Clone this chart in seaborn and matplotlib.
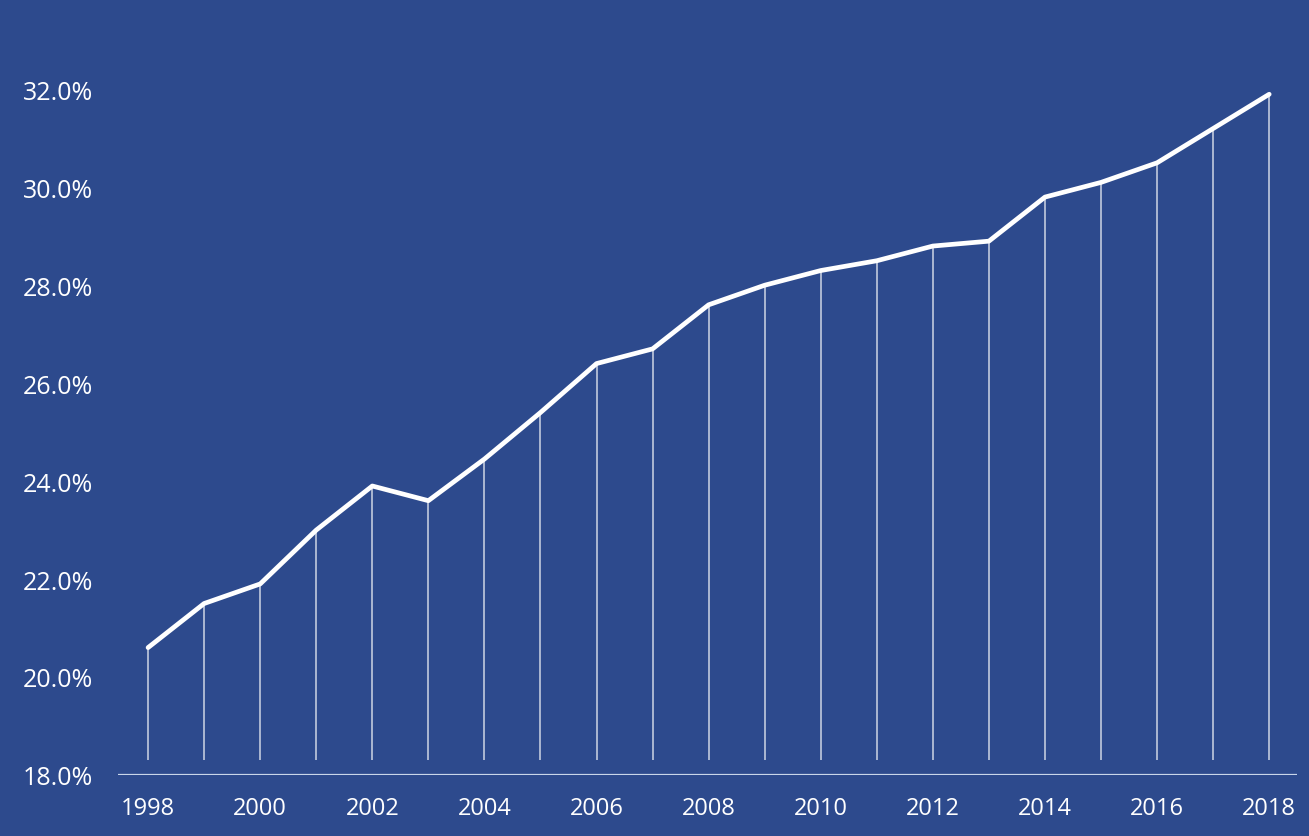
import pandas as pd
import matplotlib.pyplot as plt
import seaborn as sns
from matplotlib.ticker import FuncFormatter

# Values (share, in %)
years = list(range(1998, 2019))
share = [20.6, 21.5, 21.9, 23.0, 23.9, 23.6, 24.45, 25.4, 26.4, 26.7, 27.6,
         28.0, 28.3, 28.5, 28.8, 28.9, 29.8, 30.1, 30.5, 31.2, 31.9]
y_ticks = [18, 20, 22, 24, 26, 28, 30, 32]
x_ticks = list(range(1998, 2019, 2))

data = pd.DataFrame({'Year': years, 'Share': share})

bg = '#2d4a8d'
sns.set_style('white')
plt.rcParams['font.family'] = ['Open Sans', 'DejaVu Sans']

fig = plt.figure(figsize=(13.09, 8.37), dpi=100, facecolor=bg)
ax = fig.add_axes([0.090, 0.073, 0.901, 0.860])
ax.set_facecolor(bg)

# Drop lines from each point down toward the baseline
ax.vlines(data['Year'], 18.3, data['Share'], color='white', linewidth=1.2, alpha=0.7, zorder=2)

# Main line
sns.lineplot(x='Year', y='Share', data=data, ax=ax, color='white', linewidth=3.4, zorder=3)

# Baseline at 18%
ax.axhline(18, color='#c9d6ea', linewidth=1.6, zorder=1)

ax.set_xlim(1997.46, 2018.5)
ax.set_ylim(18, 32.7)
ax.set_xticks(x_ticks)
ax.set_yticks(y_ticks)
ax.yaxis.set_major_formatter(FuncFormatter(lambda v, p: f'{v:.1f}%'))
ax.tick_params(axis='both', length=0, colors='white', labelsize=18)
ax.tick_params(axis='y', pad=18)
ax.tick_params(axis='x', labelsize=17, pad=15)
ax.set_xlabel('')
ax.set_ylabel('')
for s in ax.spines.values():
    s.set_visible(False)

plt.savefig('out.png', dpi=100, facecolor=bg)
